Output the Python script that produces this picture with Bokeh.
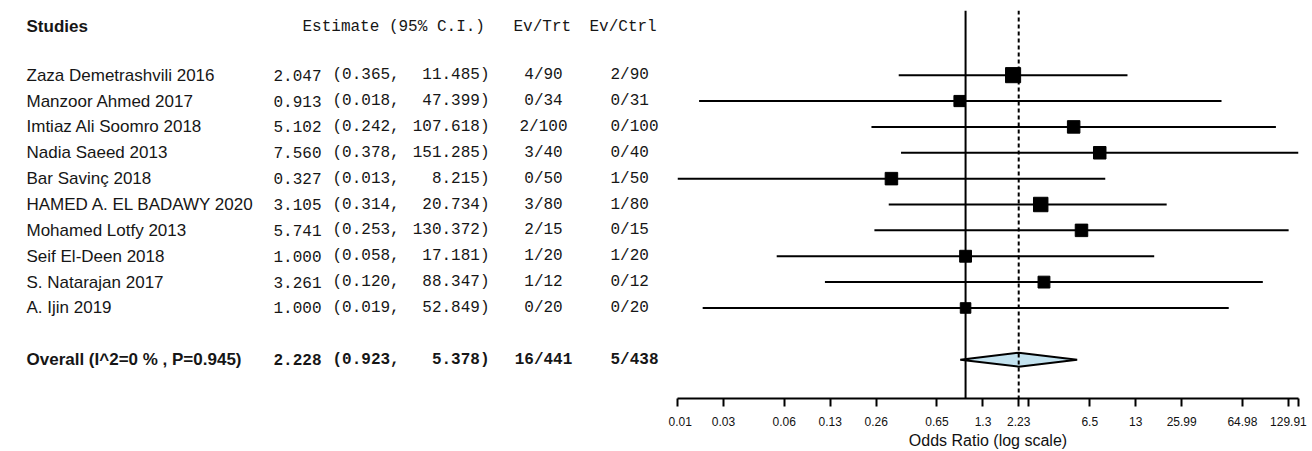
from bokeh.plotting import figure
from bokeh.layouts import row
from bokeh.models import Range1d, FixedTicker, Span, ColumnDataSource
from bokeh.core.properties import value
from bokeh.embed import file_html
from bokeh.resources import INLINE

# ---------------- data ----------------
studies = ["Zaza Demetrashvili 2016", "Manzoor Ahmed 2017", "Imtiaz Ali Soomro 2018",
           "Nadia Saeed 2013", "Bar Savinç 2018", "HAMED A. EL BADAWY 2020",
           "Mohamed Lotfy 2013", "Seif El-Deen 2018", "S. Natarajan 2017", "A. Ijin 2019"]
estimates = [2.047, 0.913, 5.102, 7.560, 0.327, 3.105, 5.741, 1.000, 3.261, 1.000]
lower = [0.365, 0.018, 0.242, 0.378, 0.013, 0.314, 0.253, 0.058, 0.120, 0.019]
upper = [11.485, 47.399, 107.618, 151.285, 8.215, 20.734, 130.372, 17.181, 88.347, 52.849]
ev_trt = ["4/90", "0/34", "2/100", "3/40", "0/50", "3/80", "2/15", "1/20", "1/12", "0/20"]
ev_ctrl = ["2/90", "0/31", "0/100", "0/40", "1/50", "1/80", "0/15", "1/20", "0/12", "0/20"]
weights = [14, 8, 10, 10, 10, 13, 10, 9, 9, 7]

overall_label = "Overall (I^2=0 % , P=0.945)"
overall_est = 2.228
overall_lo = 0.923
overall_hi = 5.378
overall_trt = "16/441"
overall_ctrl = "5/438"

headers = ["Studies", "Estimate (95% C.I.)", "Ev/Trt", "Ev/Ctrl"]
axis_title = "Odds Ratio (log scale)"
tick_values = [0.013, 0.026, 0.065, 0.13, 0.26, 0.65, 1.3, 2.228, 2.6, 6.5, 13, 25.99, 64.98, 129.91, 151.285]
tick_labels = ["0.01", "0.03", "0.06", "0.13", "0.26", "0.65", "1.3", "2.23", "", "6.5", "13",
               "25.99", "64.98", "129.91", ""]

# ---------------- layout ----------------
n = len(studies)
rows = list(range(1, n + 1))
overall_row = n + 2
header_row = -0.88
Y_RANGE = (overall_row + 1.5, -1.5)

H = 451
TOP = 10
BOTTOM = 51
LEFT_W = 668

name_font = value("Liberation Sans")
mono_font = value("Liberation Mono")
NAME_FS = "17px"
FS = "16px"
TXT = "#161616"

# ---------------- left (table) figure ----------------
left = figure(width=LEFT_W, height=H, x_range=Range1d(0, LEFT_W), y_range=Range1d(*Y_RANGE),
              output_backend="svg", toolbar_location=None,
              min_border_left=0, min_border_right=0, min_border_top=TOP, min_border_bottom=BOTTOM)
left.axis.visible = False
left.grid.visible = False
left.outline_line_color = None

src = ColumnDataSource(dict(
    y=rows, name=studies,
    est=["%.3f" % v for v in estimates],
    lo=["(%.3f," % v for v in lower],
    up=["%.3f)" % v for v in upper],
    trt=ev_trt, ctrl=ev_ctrl,
))

X_NAME, X_EST, X_LO, X_UP, X_TRT, X_CTRL = 26, 321, 332, 489, 543, 610

left.text(x=X_NAME, y="y", text="name", source=src, text_font=name_font, text_font_size=NAME_FS,
          text_baseline="middle", text_align="left", text_color=TXT)
left.text(x=X_EST, y="y", text="est", source=src, text_font=mono_font, text_font_size=FS,
          text_baseline="middle", text_align="right", text_color=TXT)
left.text(x=X_LO, y="y", text="lo", source=src, text_font=mono_font, text_font_size=FS,
          text_baseline="middle", text_align="left", text_color=TXT)
left.text(x=X_UP, y="y", text="up", source=src, text_font=mono_font, text_font_size=FS,
          text_baseline="middle", text_align="right", text_color=TXT)
left.text(x=X_TRT, y="y", text="trt", source=src, text_font=mono_font, text_font_size=FS,
          text_baseline="middle", text_align="center", text_color=TXT)
left.text(x=X_CTRL, y="y", text="ctrl", source=src, text_font=mono_font, text_font_size=FS,
          text_baseline="middle", text_align="left", text_color=TXT)

# overall row (bold)
left.text(x=[X_NAME], y=[overall_row], text=[overall_label], text_font=name_font, text_font_size=NAME_FS,
          text_font_style="bold", text_baseline="middle", text_align="left", text_color=TXT)
left.text(x=[X_EST], y=[overall_row], text=["%.3f" % overall_est], text_font=mono_font, text_font_size=FS,
          text_font_style="bold", text_baseline="middle", text_align="right", text_color=TXT)
left.text(x=[X_LO], y=[overall_row], text=["(%.3f," % overall_lo], text_font=mono_font, text_font_size=FS,
          text_font_style="bold", text_baseline="middle", text_align="left", text_color=TXT)
left.text(x=[X_UP], y=[overall_row], text=["%.3f)" % overall_hi], text_font=mono_font, text_font_size=FS,
          text_font_style="bold", text_baseline="middle", text_align="right", text_color=TXT)
left.text(x=[X_TRT], y=[overall_row], text=[overall_trt], text_font=mono_font, text_font_size=FS,
          text_font_style="bold", text_baseline="middle", text_align="center", text_color=TXT)
left.text(x=[X_CTRL], y=[overall_row], text=[overall_ctrl], text_font=mono_font, text_font_size=FS,
          text_font_style="bold", text_baseline="middle", text_align="left", text_color=TXT)

# headers
left.text(x=[X_NAME], y=[header_row], text=[headers[0]], text_font=name_font, text_font_size=NAME_FS,
          text_font_style="bold", text_baseline="middle", text_align="left", text_color=TXT)
left.text(x=[302, 513, 589], y=[header_row] * 3, text=headers[1:], text_font=mono_font, text_font_size=FS,
          text_baseline="middle", text_align="left", text_color=TXT)

# ---------------- right (forest) figure ----------------
xlo = min(lower)
xhi = max(upper)
right = figure(width=1312 - LEFT_W, height=H, x_axis_type="log", x_range=Range1d(xlo, xhi),
               y_range=Range1d(*Y_RANGE), output_backend="svg", toolbar_location=None,
               min_border_left=9, min_border_right=14, min_border_top=TOP, min_border_bottom=BOTTOM)
right.grid.visible = False
right.outline_line_color = None
right.yaxis.visible = False

xa = right.xaxis[0]
xa.ticker = FixedTicker(ticks=tick_values, minor_ticks=[])
xa.major_label_overrides = {v: l for v, l in zip(tick_values, tick_labels)}
xa.axis_line_width = 2
xa.axis_line_color = "black"
xa.major_tick_line_width = 2
xa.major_tick_line_color = "black"
xa.major_tick_out = 8
xa.major_tick_in = 0
xa.minor_tick_out = 0
xa.minor_tick_in = 0
xa.major_label_text_font = "Liberation Sans"
xa.major_label_text_font_size = "12px"
xa.major_label_text_color = "#111111"
xa.major_label_standoff = 10
xa.axis_label = axis_title
xa.axis_label_text_font = "Liberation Sans"
xa.axis_label_text_font_size = "16px"
xa.axis_label_text_font_style = "normal"
xa.axis_label_text_color = "#111111"
xa.axis_label_standoff = 3

right.add_layout(Span(location=1, dimension="height", line_color="black", line_width=2))
right.add_layout(Span(location=overall_est, dimension="height", line_color="black",
                      line_width=2, line_dash="4 3"))

fsrc = ColumnDataSource(dict(
    y=rows, est=estimates, lo=lower, hi=upper,
    size=[6 + 0.65 * w for w in weights],
))
right.segment(x0="lo", x1="hi", y0="y", y1="y", source=fsrc, line_color="black", line_width=2)
right.scatter(x="est", y="y", size="size", marker="square", source=fsrc,
              fill_color="black", line_color="black")

h = 0.27
right.patch(x=[overall_lo, overall_est, overall_hi, overall_est],
            y=[overall_row, overall_row - h, overall_row, overall_row + h],
            fill_color="#c4e3f0", line_color="black", line_width=2)

layout = row(left, right)
open("out.html", "w").write(file_html(layout, INLINE))
